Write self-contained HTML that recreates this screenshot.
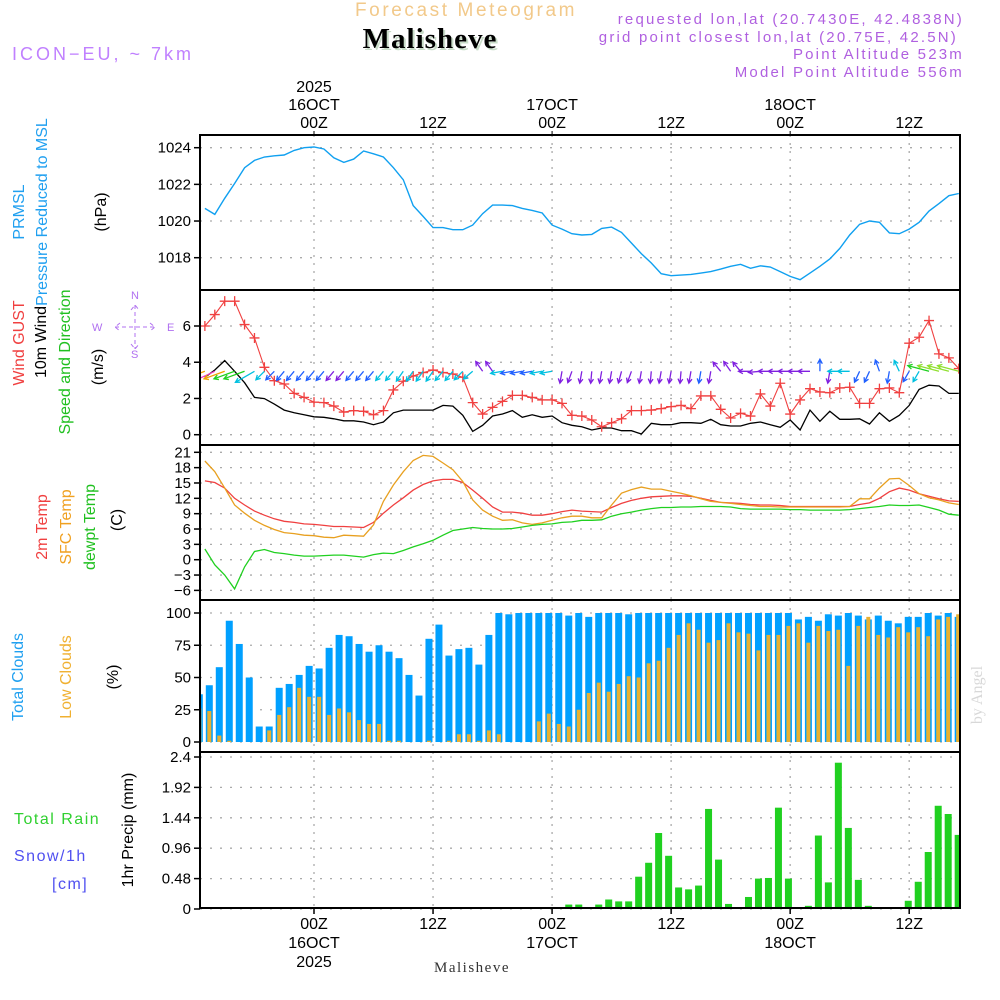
<!DOCTYPE html>
<html><head><meta charset="utf-8"><style>
html,body{margin:0;padding:0;background:#fff;}
svg{display:block;font-family:"Liberation Sans",sans-serif;}
</style></head><body>
<svg id="chart" width="1000" height="1000" viewBox="0 0 1000 1000" xmlns="http://www.w3.org/2000/svg">
<defs><clipPath id="plotclip"><rect x="200" y="135" width="760" height="775"/></clipPath></defs>
<g>
<text x="466" y="16" font-size="19" fill="#f2c98a" text-anchor="middle" letter-spacing="2.6">Forecast Meteogram</text>
<text x="432" y="50" font-size="29" font-weight="bold" font-family="Liberation Serif,serif" fill="#c8dcc8" text-anchor="middle" letter-spacing="1">Malisheve</text>
<text x="430" y="48" font-size="29" font-weight="bold" font-family="Liberation Serif,serif" fill="#000" text-anchor="middle" letter-spacing="1">Malisheve</text>
<text x="12" y="60" font-size="18" fill="#c080ff" letter-spacing="3">ICON−EU, ~ 7km</text>
<text x="964" y="24" font-size="15" fill="#b060e0" text-anchor="end" letter-spacing="2.2">requested lon,lat (20.7430E, 42.4838N)</text>
<text x="958" y="42" font-size="15" fill="#b060e0" text-anchor="end" letter-spacing="2.2">grid point closest lon,lat (20.75E, 42.5N)</text>
<text x="964" y="59" font-size="15" fill="#b060e0" text-anchor="end" letter-spacing="2.2">Point Altitude 523m</text>
<text x="964" y="77" font-size="15" fill="#b060e0" text-anchor="end" letter-spacing="2.2">Model Point Altitude 556m</text>
</g>
<g font-size="16">
<text transform="translate(24,212) rotate(-90)" fill="#20a0f0" text-anchor="middle">PRMSL</text>
<text transform="translate(47,212) rotate(-90)" fill="#20a0f0" text-anchor="middle">Pressure Reduced to MSL</text>
<text transform="translate(106,212) rotate(-90)" fill="#000" text-anchor="middle">(hPa)</text>
<text transform="translate(24,343) rotate(-90)" fill="#f04040" text-anchor="middle">Wind GUST</text>
<text transform="translate(46,342) rotate(-90)" fill="#000" text-anchor="middle">10m Wind</text>
<text transform="translate(70,362) rotate(-90)" fill="#20c020" text-anchor="middle">Speed and Direction</text>
<text transform="translate(103,367) rotate(-90)" fill="#000" text-anchor="middle">(m/s)</text>
<text transform="translate(47,527) rotate(-90)" fill="#f04040" text-anchor="middle">2m Temp</text>
<text transform="translate(71,527) rotate(-90)" fill="#f0a020" text-anchor="middle">SFC Temp</text>
<text transform="translate(95,527) rotate(-90)" fill="#20c020" text-anchor="middle">dewpt Temp</text>
<text transform="translate(122,520) rotate(-90)" fill="#000" text-anchor="middle">(C)</text>
<text transform="translate(23,677) rotate(-90)" fill="#20a0f0" text-anchor="middle">Total Clouds</text>
<text transform="translate(71,677) rotate(-90)" fill="#f0b030" text-anchor="middle">Low Clouds</text>
<text transform="translate(118,677) rotate(-90)" fill="#000" text-anchor="middle">(%)</text>
<text transform="translate(133,830) rotate(-90)" fill="#000" text-anchor="middle">1hr Precip (mm)</text>
<text x="14" y="824" fill="#30d030" letter-spacing="1.5">Total   Rain</text>
<text x="14" y="861" fill="#5050f0" letter-spacing="1.5">Snow/1h</text>
<text x="52" y="889" fill="#5050f0" letter-spacing="1.5">[cm]</text>
<text transform="translate(982,695) rotate(-90)" fill="#d8d8d8" font-family="Liberation Serif,serif" text-anchor="middle">by Angel</text>
</g>
<g fill="#b070f0" stroke="#b070f0" font-size="11">
<text x="92" y="331" stroke="none">W</text>
<text x="167" y="331" stroke="none">E</text>
<text x="131" y="299" stroke="none">N</text>
<text x="131" y="358" stroke="none">S</text>
<path d="M115 327 H155 M135 305 V349 M120 323 L115 327 L120 331 M150 323 L155 327 L150 331 M131 310 L135 305 L139 310 M131 344 L135 349 L139 344" fill="none" stroke-dasharray="4 3"/>
</g>
<g id="plots"></g>
<text x="472" y="972" font-size="15" font-family="Liberation Serif,serif" fill="#333" text-anchor="middle" letter-spacing="1.5">Malisheve</text>
</svg>
<script>
// ---- data (hourly, h = -11 .. 65 relative to 16OCT 00Z) ----
const pressure = [1020.69,1020.36,1021.24,1022.05,1022.91,1023.31,1023.49,1023.56,1023.6,1023.85,
1024.0,1024.04,1023.93,1023.45,1023.2,1023.38,1023.82,1023.67,1023.49,1022.91,
1022.25,1020.84,1020.25,1019.64,1019.64,1019.53,1019.53,1019.78,1020.4,1020.87,
1020.87,1020.84,1020.69,1020.58,1020.44,1019.78,1019.56,1019.31,1019.24,1019.27,
1019.6,1019.67,1019.38,1018.8,1018.22,1017.71,1017.13,1017.02,1017.05,1017.09,
1017.16,1017.24,1017.38,1017.53,1017.64,1017.42,1017.56,1017.49,1017.24,1016.98,
1016.8,1017.16,1017.53,1017.93,1018.51,1019.24,1019.82,1020.0,1019.93,1019.35,
1019.31,1019.56,1019.93,1020.55,1020.95,1021.38,1021.5];
const gust = [6.0,6.63,7.37,7.37,6.08,5.34,3.72,2.98,2.8,2.28,
2.06,1.8,1.77,1.58,1.25,1.33,1.29,1.1,1.33,2.47,
2.95,3.24,3.43,3.57,3.43,3.35,3.17,1.77,1.14,1.51,
1.84,2.17,2.17,2.06,1.92,1.92,1.73,1.07,1.03,0.81,
0.44,0.66,0.88,1.33,1.33,1.36,1.44,1.55,1.62,1.44,
2.14,2.14,1.4,0.92,1.18,1.03,2.25,1.58,2.84,1.14,
1.92,2.54,2.36,2.32,2.58,2.62,1.73,1.73,2.54,2.58,
2.32,5.05,5.38,6.3,4.46,4.24,3.65];
const wind10 = [3.17,3.57,4.09,3.5,2.87,2.06,1.99,1.69,1.36,1.21,
1.1,0.99,0.96,0.88,0.77,0.77,0.7,0.55,0.7,1.21,
1.36,1.36,1.36,1.36,1.62,1.58,1.07,0.18,0.52,1.03,
1.14,1.33,0.96,1.1,0.96,1.03,0.66,0.52,0.44,0.26,
0.37,0.37,0.22,0.22,0.04,0.63,0.55,0.55,0.66,0.66,
0.63,0.85,0.55,0.48,0.48,0.63,0.7,0.55,0.41,0.81,
0.26,1.36,0.74,1.29,0.85,0.85,0.88,0.59,1.21,0.74,
1.07,1.62,2.5,2.73,2.69,2.28,2.28];
const windDir = [160,155,160,160,160,150,135,135,130,130,
130,130,130,130,130,130,130,130,130,130,
125,125,125,125,130,130,135,140,235,235,
170,170,170,170,170,170,100,110,100,95,
100,100,105,110,100,95,100,100,95,100,
100,100,230,235,230,180,175,180,180,180,
180,180,270,100,180,180,115,115,250,100,
245,120,120,195,195,195,195];
const windCol = [0,1,0,2,2,3,3,4,4,4,
4,4,4,5,5,4,4,4,3,3,
3,3,3,3,3,3,3,3,5,5,
3,4,4,4,3,3,5,5,5,5,
5,5,5,5,5,5,5,5,5,5,
4,5,5,5,5,5,5,5,5,5,
5,5,4,5,3,3,4,4,4,4,
3,4,3,2,6,6,6];
const t2m = [15.4,15.1,14.0,12.0,10.7,9.5,8.7,8.0,7.5,7.3,
7.0,6.9,6.7,6.5,6.5,6.4,6.3,7.3,9.1,10.7,
12.1,13.6,14.7,15.4,15.7,15.7,15.1,13.6,12.0,10.3,
9.3,9.3,9.1,8.7,8.7,9.0,9.4,9.7,9.5,9.4,
9.3,10.2,11.0,11.6,12.0,12.3,12.4,12.5,12.5,12.4,
12.0,11.6,11.2,11.1,11.0,10.8,10.7,10.7,10.6,10.4,
10.4,10.4,10.4,10.4,10.4,10.4,10.8,11.1,12.0,13.3,
14.0,13.6,12.9,12.4,11.9,11.5,11.4];
const tsfc = [19.3,17.2,14.0,10.7,9.1,7.7,6.7,5.9,5.3,5.1,
4.8,4.7,4.4,4.3,4.8,4.7,4.6,6.8,11.4,14.6,
17.2,19.4,20.4,20.2,18.9,17.6,15.3,11.7,9.7,8.5,
7.7,7.8,7.2,6.9,7.2,7.7,8.2,8.5,8.5,8.2,
8.2,10.7,13.0,13.7,14.2,13.8,13.8,13.4,13.0,12.5,
11.9,11.4,11.2,11.0,10.8,10.6,10.4,10.4,10.3,10.3,
10.3,10.3,10.3,10.3,10.3,10.4,11.9,11.9,14.0,15.8,
15.9,14.5,12.9,12.1,11.7,11.1,10.8];
const dewpt = [2.1,-1.0,-3.0,-5.7,-1.4,1.6,2.0,1.4,1.2,0.9,
0.7,0.7,0.8,0.9,0.9,0.7,0.5,1.0,1.3,1.2,
1.8,2.5,3.1,3.8,4.8,5.7,6.0,6.3,6.1,6.0,
6.0,6.1,6.4,6.7,6.9,7.0,7.3,7.4,7.7,7.7,
7.8,8.5,9.0,9.3,9.7,10.0,10.2,10.2,10.3,10.3,
10.4,10.4,10.4,10.3,10.0,9.9,9.9,9.9,9.9,9.8,
9.8,9.7,9.7,9.7,9.7,9.8,10.0,10.2,10.4,10.7,
10.6,10.6,10.7,10.2,9.7,8.9,8.7];
const totalCloud = [37,44,58,94,76,50,12,12,42,45,
52,59,57,73,83,82,76,70,75,70,
65,52,36,80,91,67,72,73,60,83,
100,99,100,100,100,100,100,98,100,97,
100,100,100,99,100,100,100,100,100,100,
100,100,100,100,100,100,100,100,100,100,
95,97,94,99,98,100,98,95,98,94,
92,97,97,100,98,100,97];
const lowCloud = [26,24,5,1,0,0,0,9,21,27,
42,35,35,21,26,23,17,14,14,1,
1,0,0,1,0,1,6,6,1,9,
6,0,0,0,16,22,14,12,25,38,
46,39,45,51,50,61,63,73,83,92,
87,77,79,92,85,84,71,83,83,90,
92,77,90,86,87,59,90,97,83,81,
89,85,89,82,95,97,99];
const precip = [0,0,0,0,0,0,0,0,0,0,
0,0,0,0,0,0,0,0,0,0,
0,0,0,0,0,0,0,0,0,0,
0,0,0,0,0,0,0,0.07,0.07,0,
0.07,0.15,0.12,0.12,0.51,0.73,1.2,0.84,0.34,0.31,
0.37,1.58,0.78,0.08,0,0.19,0.48,0.49,1.6,0.48,
0,0.05,1.16,0.42,2.31,1.28,0.46,0.05,0,0,
0,0.13,0.43,0.9,1.63,1.5,1.17];
const pressureTicks = [1018,1020,1022,1024];
const windTicks = [0,2,4,6];
const tempTicks = [-6,-3,0,3,6,9,12,15,18,21];
const cloudTicks = [0,25,50,75,100];
const precipTicks = ["0","0.48","0.96","1.44","1.92","2.4"];
const timeTicks = [0,12,24,36,48,60];
const topLabels = [["2025","16OCT","00Z"],["","","12Z"],["","17OCT","00Z"],["","","12Z"],["","18OCT","00Z"],["","","12Z"]];

// ---- scales ----
const H0 = -11, X0 = 314, PXH = 9.92;
function xs(h){ return X0 + h*PXH; }
function xb(k){ return 209.3 + (k-1)*9.985; }
function lin(v0,y0,v1,y1){ return v => y0 + (v-v0)*(y1-y0)/(v1-v0); }
const yP = lin(1024,147.7,1018,257.7);
const yW = lin(0,434.7,6,326);
const yT = lin(0,559.7,21,452.3);
const yC = lin(0,742,100,613);
const yR = lin(0,909,2.4,757);
const panels = [[135,290],[290,445],[445,600],[600,752],[752,908]];
const NS = "http://www.w3.org/2000/svg";
const root = document.getElementById('plots');
function mk(tag, attrs, parent){ const e=document.createElementNS(NS,tag); for(const k in attrs) e.setAttribute(k,attrs[k]); (parent||root).appendChild(e); return e; }

panels.forEach((p,i)=>{
  const g = mk('g',{});
  
  
  timeTicks.forEach(t=>{
    const l = mk('line',{x1:xs(t),x2:xs(t),y1:p[0],y2:p[1],stroke:'#aaa','stroke-width':1.3,'stroke-dasharray':'2 6'},g);
    
    
  });
});
function hgrid(ticks, sc, labels, name){
  ticks.forEach((t,i)=>{
    const y = sc(Number(t));
    const l = mk('line',{x1:200,x2:960,y1:y,y2:y,stroke:'#aaa','stroke-width':1.3,'stroke-dasharray':'2 8'});
    
    
    const tk = mk('line',{x1:194,x2:200,y1:y,y2:y,stroke:'#000','stroke-width':1.5});
    
    
    const tx = mk('text',{x:191,y:y+5,'font-size':15,'text-anchor':'end',fill:'#000'});
    tx.textContent = labels ? labels[i] : String(t).replace('-','−');
    
    
  });
}
hgrid(pressureTicks,yP,null,'pressure');
hgrid(windTicks,yW,null,'wind');
hgrid(tempTicks,yT,null,'temp');
hgrid(cloudTicks,yC,null,'cloud');
hgrid(precipTicks,yR,precipTicks,'precip');

const clip = mk('g',{'clip-path':'url(#plotclip)'});



function line(arr, ysc, color, name, w){
  const pts = arr.map((v,i)=>xs(H0+i).toFixed(1)+','+ysc(v).toFixed(1)).join(' ');
  const pl = mk('polyline',{points:pts,fill:'none',stroke:color,'stroke-width':w||1.3},clip);
  
  
}
totalCloud.forEach((v,i)=>{
  const cx = xb(i);
  const r = mk('rect',{x:cx-3.5,y:yC(v),width:7,height:yC(0)-yC(v),fill:'#00a0ff'},clip);
  
  
});
lowCloud.forEach((v,i)=>{
  if(v<=0) return;
  const cx = xb(i);
  const r = mk('rect',{x:cx-2,y:yC(v),width:4,height:yC(0)-yC(v),fill:'#e8b030'},clip);
  
  
});
precip.forEach((v,i)=>{
  if(v<=0) return;
  const cx = xb(i);
  const r = mk('rect',{x:cx-3.5,y:yR(v),width:7,height:yR(0)-yR(v),fill:'#20d020'},clip);
  
  
});
const base = mk('line',{x1:200,x2:960,y1:908,y2:908,stroke:'#000','stroke-width':2,'stroke-dasharray':'6 2'},clip);



line(pressure,yP,'#10a0f0','pressure-line',1.4);
line(t2m,yT,'#f04040','temp-2m-line');
line(tsfc,yT,'#e8a020','sfc-temp-line');
line(dewpt,yT,'#20d020','dewpt-line');
line(wind10,yW,'#000','wind-10m-line');
line(gust,yW,'#f04040','gust-line',1.1);
gust.forEach((v,i)=>{
  const x=xs(H0+i), y=yW(v);
  const p = mk('path',{d:`M${x-5} ${y}H${x+5}M${x} ${y-5}V${y+5}`,stroke:'#f04040','stroke-width':1.3},clip);
  
  
});
const palette = ['#f0a000','#f040c0','#20d020','#00c0e0','#2060ff','#8020e0','#90e030'];
windDir.forEach((d,i)=>{
  const x=xs(H0+i), y=yW(3.5);
  const L = (i<6||i>72)?22:12;
  const a = d*Math.PI/180;
  const ex = x + Math.cos(a)*L, ey = y + Math.sin(a)*L;
  const h1 = a+Math.PI-0.5, h2 = a+Math.PI+0.5;
  const p = mk('path',{d:`M${x} ${y}L${ex} ${ey}M${ex+Math.cos(h1)*5} ${ey+Math.sin(h1)*5}L${ex} ${ey}L${ex+Math.cos(h2)*5} ${ey+Math.sin(h2)*5}`,stroke:palette[windCol[i]],'stroke-width':1.3,fill:'none'},clip);
  
  
});
panels.forEach(p=>{
  const r = mk('rect',{x:200,y:p[0],width:760,height:p[1]-p[0],fill:'none',stroke:'#000','stroke-width':2});
  
  
});
timeTicks.forEach((t,i)=>{
  const x = xs(t);
  const tk = mk('line',{x1:x,x2:x,y1:131,y2:135,stroke:'#000'});
  
  
  const tk2 = mk('line',{x1:x,x2:x,y1:908,y2:914,stroke:'#000','stroke-width':1.5});
  
  
  topLabels[i].forEach((s,j)=>{
    if(!s) return;
    const a = mk('text',{x:x,y:92+j*18,'font-size':16,'text-anchor':'middle',fill:'#000'});
    a.textContent = s;
    
    
    const b = mk('text',{x:x,y:929+(2-j)*19,'font-size':16,'text-anchor':'middle',fill:'#000'});
    b.textContent = s;
    
    
  });
});
</script>
</body></html>
